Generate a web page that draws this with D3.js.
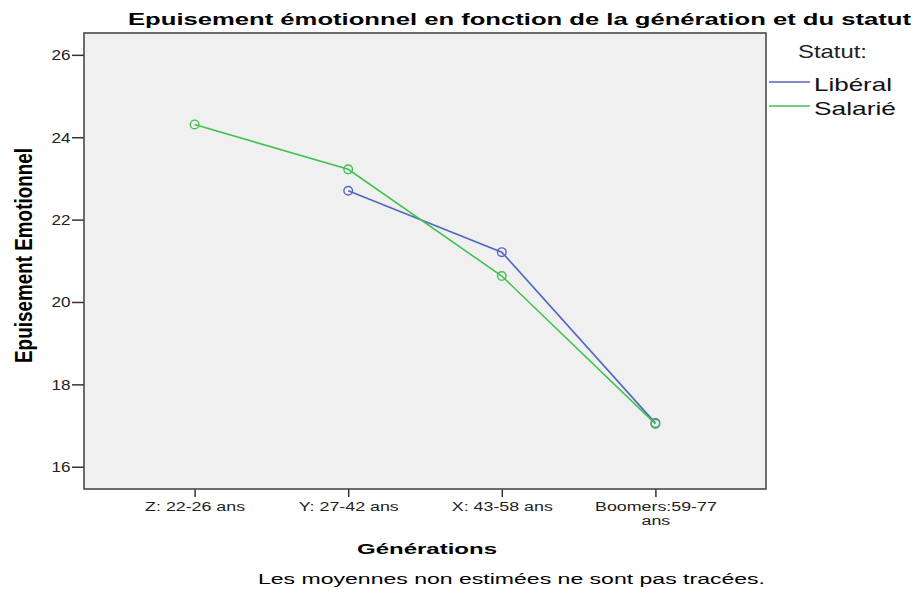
<!DOCTYPE html>
<html><head><meta charset="utf-8">
<script src="https://cdn.jsdelivr.net/npm/d3@7"></script>
<style>body{margin:0;background:#fff}svg{display:block}text{font-family:"Liberation Sans",Arial,sans-serif}</style>
</head><body><svg id="c" width="915" height="594"></svg>
<script>
const categories = ["Z: 22-26 ans", "Y: 27-42 ans", "X: 43-58 ans", "Boomers:59-77 ans"];
const liberal = [null, 22.70, 21.21, 17.06];
const salarie = [24.31, 23.22, 20.63, 17.04];
const yTicks = [16, 18, 20, 22, 24, 26];
const seriesNames = ["Libéral", "Salarié"];
const seriesColors = ["#5467c1", "#41c24e"];

const svg = d3.select("#c");
const L = 84, R = 766, T = 33, B = 489;
const x = d3.scalePoint().domain(categories).range([L, R]).padding(0.72);
const y = d3.scaleLinear().domain([15.46, 26.53]).range([B, T]);

svg.append("rect").attr("x", L).attr("y", T).attr("width", R - L).attr("height", B - T)
  .attr("fill", "#f0f0f0");

// Y axis
const ya = svg.append("g").attr("transform", `translate(${L},0)`)
  .call(d3.axisLeft(y).tickValues(yTicks).tickSize(12).tickPadding(3).tickFormat(d3.format("d")));
ya.select(".domain").remove();
ya.selectAll(".tick line").attr("stroke", "#333").attr("stroke-width", 1.5);
ya.selectAll(".tick text").attr("font-size", 14).attr("fill", "#222")
  .attr("font-family", "Liberation Sans, Arial, sans-serif").attr("transform", "scale(1.22,1)")
  .attr("x", -13.5 / 1.22).attr("dy", null).attr("y", 5);

// X axis
const xa = svg.append("g").attr("transform", `translate(0,${B})`)
  .call(d3.axisBottom(x).tickSize(8).tickPadding(5).tickFormat(""));
xa.select(".domain").remove();
xa.selectAll(".tick line").attr("stroke", "#333").attr("stroke-width", 1.5);
xa.selectAll(".tick").each(function (d) {
  const g = d3.select(this);
  const parts = d.startsWith("Boomers") ? ["Boomers:59-77", "ans"] : [d];
  parts.forEach((p, i) => {
    g.append("text").attr("y", 22.5 + i * 13.5).attr("text-anchor", "middle")
      .attr("font-size", 13.5).attr("fill", "#222")
      .attr("transform", "scale(1.32,1)").text(p);
  });
});

// frame
svg.append("rect").attr("x", L).attr("y", T).attr("width", R - L).attr("height", B - T)
  .attr("fill", "none").attr("stroke", "#4a4a4a").attr("stroke-width", 1.6);

// series
const data = [liberal, salarie];
const line = d3.line().defined(d => d.v != null).x(d => x(d.c)).y(d => y(d.v));
data.forEach((vals, si) => {
  const pts = vals.map((v, i) => ({ c: categories[i], v }));
  svg.append("path").datum(pts).attr("d", line).attr("fill", "none")
    .attr("stroke", seriesColors[si]).attr("stroke-width", 1.6);
  svg.selectAll(null).data(pts.filter(p => p.v != null)).enter().append("circle")
    .attr("cx", p => x(p.c)).attr("cy", p => y(p.v)).attr("r", 4.3)
    .attr("fill", "none").attr("stroke", seriesColors[si]).attr("stroke-width", 1.4);
});

// title
svg.append("text").attr("x", 128).attr("y", 24.5).attr("font-size", 17).attr("font-weight", "bold")
  .attr("textLength", 783).attr("lengthAdjust", "spacingAndGlyphs")
  .text("Epuisement émotionnel en fonction de la génération et du statut");

// y label
svg.append("text").attr("transform", "translate(32,255.5) scale(1.25,1) rotate(-90)").attr("text-anchor", "middle")
  .attr("font-size", 19).attr("font-weight", "bold")
  .attr("textLength", 215).attr("lengthAdjust", "spacingAndGlyphs")
  .text("Epuisement Emotionnel");

// x label
svg.append("text").attr("x", 357).attr("y", 554).attr("font-size", 15.5).attr("font-weight", "bold")
  .attr("textLength", 140).attr("lengthAdjust", "spacingAndGlyphs").text("Générations");

// footnote
svg.append("text").attr("x", 258).attr("y", 584).attr("font-size", 14)
  .attr("textLength", 507).attr("lengthAdjust", "spacingAndGlyphs")
  .text("Les moyennes non estimées ne sont pas tracées.");

// legend
svg.append("text").attr("x", 798).attr("y", 58).attr("font-size", 18.5).attr("fill", "#222")
  .attr("textLength", 69).attr("lengthAdjust", "spacingAndGlyphs").text("Statut:");
const legY = [82, 106];
const legW = [78, 82];
seriesNames.forEach((n, i) => {
  svg.append("line").attr("x1", 769).attr("x2", 810).attr("y1", legY[i]).attr("y2", legY[i])
    .attr("stroke", seriesColors[i]).attr("stroke-width", 1.6);
  svg.append("text").attr("x", 814).attr("y", legY[i] + 9).attr("font-size", 18.5).attr("fill", "#111")
    .attr("textLength", legW[i]).attr("lengthAdjust", "spacingAndGlyphs").text(n);
});
</script></body></html>
